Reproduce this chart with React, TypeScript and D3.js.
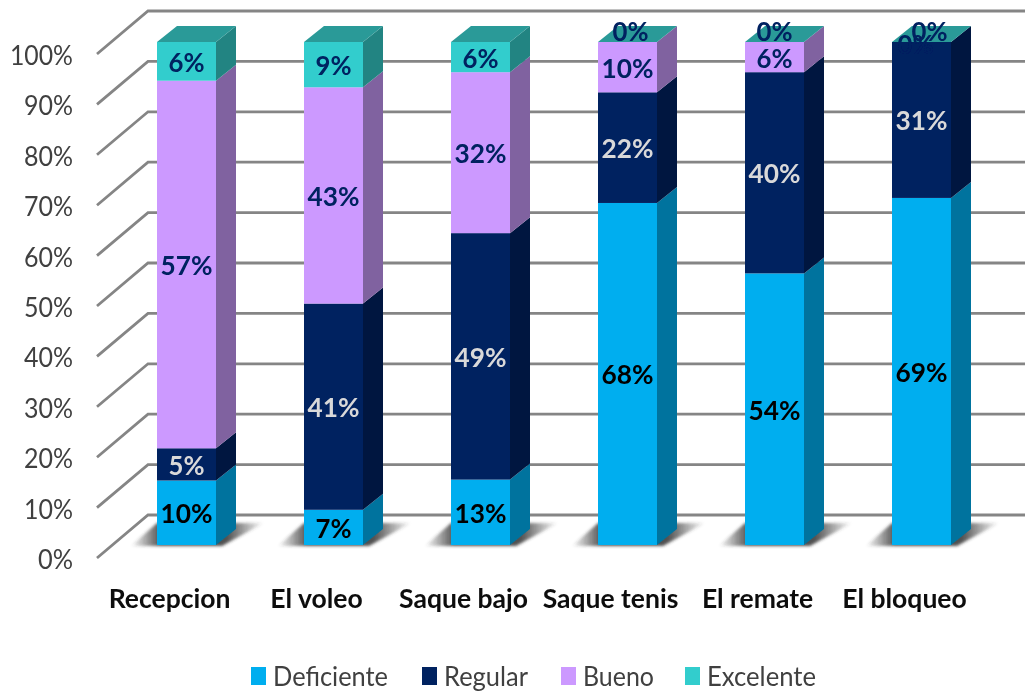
import React from "react";
import * as d3 from "d3";

const categories = ["Recepcion", "El voleo", "Saque bajo", "Saque tenis", "El remate", "El bloqueo"];
const seriesNames = ["Deficiente", "Regular", "Bueno", "Excelente"];
const deficiente = [10, 7, 13, 68, 54, 69];
const regular = [5, 41, 49, 22, 40, 31];
const bueno = [57, 43, 32, 10, 6, 0];
const excelente = [6, 9, 6, 0, 0, 0];
const seriesValues = [deficiente, regular, bueno, excelente];
const yTicks = [0, 0.1, 0.2, 0.3, 0.4, 0.5, 0.6, 0.7, 0.8, 0.9, 1];

const frontColors = ["#00aeef", "#002060", "#cc99ff", "#31cdcd"];
const sideColors = ["#00739e", "#001340", "#8062a0", "#228482"];
const topColor = "#2a9a98";
const labelColors = ["#000000", "#d9d9d9", "#002060", "#002060"];
const legendX = [251, 422, 561, 685];
const legendLength = [115, 84, 71, 109];
const zeroLabelShift = [0, 0, 0, 3, 0, 8];

const FONT = "Lato, 'Open Sans', sans-serif";

export default function App() {
  const rows = categories.map((c, i) => {
    const r: Record<string, any> = { category: c };
    seriesNames.forEach((s, k) => (r[s] = seriesValues[k][i]));
    return r;
  });
  const stacked = d3.stack<any>().keys(seriesNames).offset(d3.stackOffsetExpand)(rows);

  const x = d3.scaleBand<string>().domain(categories).range([157, 951]).paddingInner(88 / 147).paddingOuter(0);
  const y = d3.scaleLinear().domain([0, 1]).range([545, 42]);
  const wallY = d3.scaleLinear().domain([0, 1]).range([515, 11]);
  const axisY = d3.scaleLinear().domain([0, 1]).range([558, 54]);
  const pct = d3.format(".0%");
  const w = x.bandwidth();
  const dx = 20;
  const dy = 16;

  return (
    <svg width={1025} height={691} style={{ position: "absolute", left: 0, top: 0, background: "#fff" }} fontFamily={FONT}>
      <defs>
        <filter id="soft" x="-5%" y="-5%" width="110%" height="110%">
          <feGaussianBlur stdDeviation="0.5" />
        </filter>
        <filter id="lineBlur" x="-5%" y="-50%" width="110%" height="200%">
          <feGaussianBlur stdDeviation="0.7" />
        </filter>
        <filter id="shadowBlur" x="-30%" y="-100%" width="160%" height="300%">
          <feGaussianBlur stdDeviation="1.5" />
        </filter>
        <linearGradient id="shadowFill" x1="0" x2="1" y1="0" y2="0">
          <stop offset="0" stopColor="#333" stopOpacity={0} />
          <stop offset="0.22" stopColor="#333" stopOpacity={0.85} />
          <stop offset="0.72" stopColor="#333" stopOpacity={0.85} />
          <stop offset="1" stopColor="#333" stopOpacity={0} />
        </linearGradient>
      </defs>

      <g filter="url(#soft)">
        {/* Walls */}
        <g filter="url(#lineBlur)" stroke="#858585" strokeWidth={2.8} fill="none">
          {yTicks.map((t) => (
            <path key={t} d={`M97,${axisY(t)}L148,${wallY(t)}H1025`} />
          ))}
        </g>

        {/* Floor shadows */}
        {categories.map((c) => {
          const l = x(c)!;
          return (
            <path
              key={c}
              filter="url(#shadowBlur)"
              fill="url(#shadowFill)"
              d={`M${l - 26},${y(0) + 1}L${l + w + 6},${y(0) + 1}L${l + w + 48},${y(0) - 22}L${l},${y(0) - 22}Z`}
            />
          );
        })}

        {/* Stacked 3D bars */}
        {stacked.map((layer, k) => (
          <g key={layer.key}>
            {layer.map((d, i) => {
              const l = x(categories[i])!;
              const y0 = y(d[0]);
              const y1 = y(d[1]);
              return (
                <g key={i}>
                  <path
                    fill={sideColors[k]}
                    d={`M${l + w},${y0}L${l + w + dx},${y0 - dy}V${y1 - dy}L${l + w},${y1}Z`}
                  />
                  <rect x={l} y={y1} width={w} height={y0 - y1} fill={frontColors[k]} />
                </g>
              );
            })}
          </g>
        ))}

        {/* Bar tops */}
        {categories.map((c) => {
          const l = x(c)!;
          return (
            <path
              key={c}
              fill={topColor}
              d={`M${l},${y(1)}L${l + dx},${y(1) - dy}H${l + w + dx}L${l + w},${y(1)}Z`}
            />
          );
        })}

        {/* Data labels */}
        {stacked.map((layer, k) =>
          layer.map((d, i) => {
            const v = seriesValues[k][i];
            const c = x(categories[i])! + w / 2;
            const zeroTop = v === 0;
            const ly = zeroTop ? (k === 3 ? y(1) - 12 : y(1) + 1) : y((d[0] + d[1]) / 2);
            const lx = zeroTop ? (k === 3 ? c + zeroLabelShift[i] : c - 6) : c;
            return (
              <text
                key={`${k}-${i}`}
                x={lx}
                y={ly}
                textAnchor="middle"
                dominantBaseline="central"
                fontSize={27}
                fontWeight={700}
                fill={labelColors[k]}
                textLength={v >= 10 ? 52 : 36}
                lengthAdjust="spacingAndGlyphs"
              >
                {pct(v / 100)}
              </text>
            );
          })
        )}

        {/* Y axis labels */}
        {yTicks.map((t) => (
          <text
            key={t}
            x={73}
            y={axisY(t) + 1}
            textAnchor="end"
            dominantBaseline="central"
            fontSize={26}
            fill="#404040"
            textLength={t === 1 ? 63 : t === 0 ? 35 : 49}
            lengthAdjust="spacingAndGlyphs"
          >
            {pct(t)}
          </text>
        ))}

        {/* Category labels */}
        {categories.map((c) => (
          <text
            key={c}
            x={x(c)! + w / 2 - 17}
            y={598}
            textAnchor="middle"
            dominantBaseline="central"
            fontSize={26.5}
            fontWeight={700}
            fill="#0d0d0d"
          >
            {c}
          </text>
        ))}

        {/* Legend */}
        {seriesNames.map((s, k) => (
          <g key={s}>
            <rect x={legendX[k]} y={667} width={15} height={18} fill={frontColors[k]} />
            <text
              x={legendX[k] + 22}
              y={676}
              dominantBaseline="central"
              fontSize={26}
              fill="#404040"
              textLength={legendLength[k]}
              lengthAdjust="spacingAndGlyphs"
            >
              {s}
            </text>
          </g>
        ))}
      </g>
    </svg>
  );
}
